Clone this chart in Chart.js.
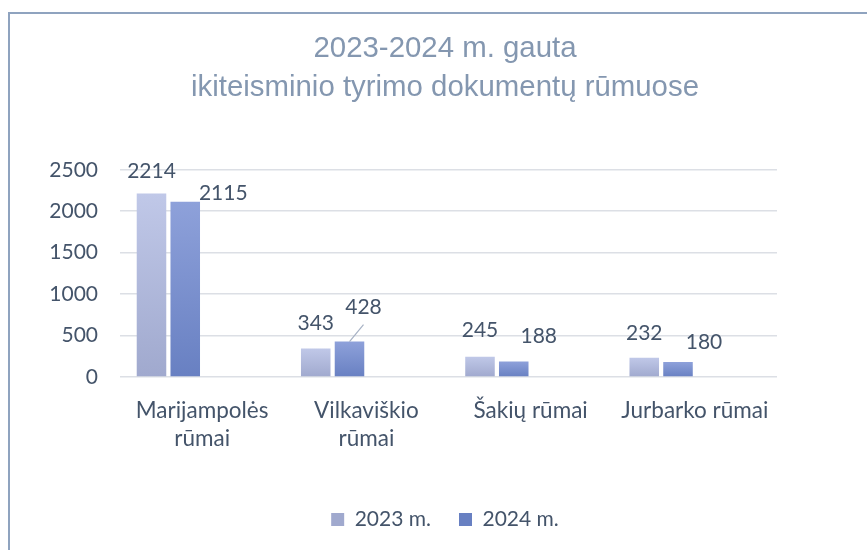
<!DOCTYPE html>
<html>
<head>
<meta charset="utf-8">
<script src="https://cdn.jsdelivr.net/npm/chart.js@4.4.1/dist/chart.umd.min.js"></script>
<style>
  html, body { margin: 0; padding: 0; background: #fff; }
  .frame {
    position: absolute; left: 8px; top: 12px;
    width: 1000px; height: 700px;
    border: 2px solid #8fa3bf;
  }
  .wrap { position: absolute; left: 0; top: 0; width: 867px; height: 550px; }
</style>
</head>
<body>
<div class="frame"></div>
<div class="wrap"><canvas id="chart" width="867" height="550"></canvas></div>
<script>
// duomenys
const categories = [['Marijampolės', 'rūmai'], ['Vilkaviškio', 'rūmai'], 'Šakių rūmai', 'Jurbarko rūmai'];
const seriesNames = ['2023 m.', '2024 m.'];
const values2023 = [2214, 343, 245, 232];
const values2024 = [2115, 428, 188, 180];
const yTicks = [0, 500, 1000, 1500, 2000, 2500];

// etikečių poslinkiai (px) nuo stulpelio viršaus
const labelShift = [
  [[0, -22], [0, -25], [0, -26], [0, -25]],
  [[38, -8], [14, -34], [25, -25], [26, -20]]
];
const leaderLines = [[false, false, false, false], [false, true, false, false]];

const textColor = '#44546a';
const uiFont = 'Lato, "Open Sans", sans-serif';

function barFill(topColor, bottomColor, midColor) {
  return (ctx) => {
    const chart = ctx.chart;
    if (!chart.chartArea || ctx.type !== 'data' || ctx.raw == null) return midColor;
    const y = chart.scales.y;
    const top = y.getPixelForValue(ctx.raw);
    const bottom = y.getPixelForValue(0);
    const g = chart.ctx.createLinearGradient(0, top, 0, bottom);
    g.addColorStop(0, topColor);
    g.addColorStop(1, bottomColor);
    return g;
  };
}

const dataLabels = {
  id: 'dataLabels',
  afterDatasetsDraw(chart) {
    const c = chart.ctx;
    c.save();
    c.font = '21px ' + uiFont;
    c.fillStyle = textColor;
    c.textAlign = 'center';
    c.textBaseline = 'middle';
    [0, 1].forEach(di => {
      const meta = chart.getDatasetMeta(di);
      meta.data.forEach((bar, i) => {
        const v = chart.data.datasets[di].data[i];
        const [dx, dy] = labelShift[di][i];
        if (leaderLines[di][i]) {
          c.strokeStyle = '#a6b1c4';
          c.lineWidth = 1.2;
          c.beginPath();
          c.moveTo(bar.x, bar.y);
          c.lineTo(bar.x + 14, bar.y - 17);
          c.stroke();
        }
        c.fillText(String(v), bar.x + dx, bar.y + dy);
      });
    });
    c.restore();
  }
};

const barSize = { categoryPercentage: 0.822, barPercentage: 0.875 };

const ctx = document.getElementById('chart').getContext('2d');
new Chart(ctx, {
  type: 'bar',
  data: {
    labels: categories,
    datasets: [
      { label: seriesNames[0], data: values2023, backgroundColor: barFill('#c0c8e8', '#a0a9ce', '#b3bce0'), ...barSize },
      { label: seriesNames[1], data: values2024, backgroundColor: barFill('#8ea1da', '#6880c2', '#7890cf'), ...barSize },
      // tušti stulpeliai, kaip Excel'yje (užima vietą grupėje)
      { label: '', data: [null, null, null, null], ...barSize },
      { label: '', data: [null, null, null, null], ...barSize }
    ]
  },
  options: {
    responsive: false,
    animation: false,
    layout: { padding: { left: 23, right: 0, top: 10, bottom: 10 } },
    plugins: {
      title: {
        display: true,
        text: ['2023-2024 m. gauta', 'ikiteisminio tyrimo dokumentų rūmuose'],
        color: '#8497b0',
        font: { family: '"Liberation Sans", Arial, sans-serif', size: 29.4, weight: 'normal', lineHeight: 1.34 },
        padding: { top: 19, bottom: 62 }
      },
      legend: {
        position: 'bottom',
        labels: {
          filter: item => item.text !== '',
          color: textColor,
          font: { family: uiFont, size: 21 },
          boxWidth: 13,
          boxHeight: 13,
          padding: 28
        }
      },
      tooltip: { enabled: false }
    },
    scales: {
      x: {
        grid: { display: false },
        border: { display: false },
        ticks: {
          color: textColor,
          font: { family: uiFont, size: 22.5, lineHeight: 1.244 },
          padding: 12,
          maxRotation: 0,
          autoSkip: false
        },
        afterFit: s => { s.height = 104; }
      },
      y: {
        min: yTicks[0],
        max: yTicks[yTicks.length - 1],
        afterBuildTicks: s => { s.ticks = yTicks.map(v => ({ value: v })); },
        grid: { color: '#dcdfe5', lineWidth: 1.5, drawTicks: false },
        border: { display: false },
        ticks: {
          color: textColor,
          font: { family: uiFont, size: 21 },
          padding: 22,
          callback: v => String(v)
        },
        afterFit: s => { s.width = 97; }
      },
      // tuščia erdvė dešinėje, kad pavadinimas ir legenda būtų centruoti kaip originale
      spacer: {
        type: 'linear',
        position: 'right',
        grid: { display: false },
        border: { display: false },
        ticks: { display: false },
        afterFit: s => { s.width = 90; }
      }
    }
  },
  plugins: [dataLabels]
});
</script>
</body>
</html>
